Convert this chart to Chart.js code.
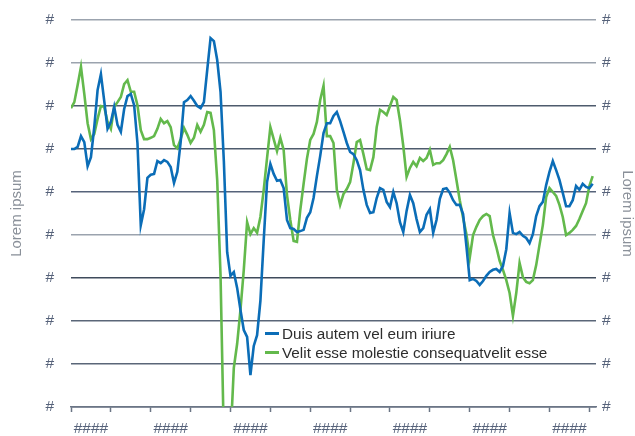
<!DOCTYPE html>
<html><head><meta charset="utf-8">
<script src="https://cdn.jsdelivr.net/npm/chart.js@4"></script>
<style>
html,body{margin:0;padding:0;background:#fff;}
#wrap{position:relative;width:635px;height:436px;}
#legend{position:absolute;left:265px;top:324px;font-family:'Liberation Sans',Arial,sans-serif;font-size:15.3px;color:#2d2d2d;line-height:19px;}
.item{display:flex;align-items:center;white-space:nowrap;}
.mark{display:inline-block;width:14px;height:3px;margin-right:3px;}
</style></head><body>
<div id="wrap"><canvas id="c" width="635" height="436"></canvas><div id="legend"></div></div>
<script>
// ---- data ----
const seriesNames = ['Duis autem vel eum iriure', 'Velit esse molestie consequatvelit esse'];
const axisTitle = 'Lorem ipsum';
const xTickLabels = ['####', '####', '####', '####', '####', '####', '####'];
const yTickLabels = ['#', '#', '#', '#', '#', '#', '#', '#', '#', '#'];
const blueValues = [
  6.00,
  6.00, 6.05, 6.30, 6.16, 5.60, 5.81, 6.51, 7.37, 7.74, 7.12,
  6.47, 6.63, 6.98, 6.56, 6.40, 6.93, 7.23, 7.28, 7.02, 6.14,
  4.23, 4.60, 5.33, 5.40, 5.42, 5.72, 5.67, 5.74, 5.70, 5.58,
  5.21, 5.47, 6.16, 7.09, 7.14, 7.23, 7.12, 7.00, 6.95, 7.09,
  7.84, 8.58, 8.51, 8.07, 7.33, 5.72, 3.60, 3.05, 3.14, 2.77,
  2.26, 1.79, 1.63, 0.74, 1.42, 1.67, 2.47, 3.88, 5.23, 5.65,
  5.42, 5.26, 5.28, 5.09, 4.35, 4.16, 4.14, 4.07, 4.09, 4.12,
  4.40, 4.53, 4.86, 5.37, 5.84, 6.37, 6.60, 6.60, 6.77, 6.86,
  6.65, 6.40, 6.14, 5.93, 5.88, 5.74, 5.51, 5.05, 4.70, 4.51,
  4.53, 4.86, 5.09, 5.05, 4.77, 4.65, 5.00, 4.74, 4.30, 4.07,
  4.56, 4.93, 4.74, 4.37, 4.07, 4.16, 4.47, 4.60, 4.05, 4.35,
  4.84, 5.07, 5.09, 4.98, 4.81, 4.70, 4.70, 4.49, 3.74, 2.95,
  2.98, 2.93, 2.84, 2.93, 3.05, 3.14, 3.19, 3.21, 3.14, 3.28,
  3.67, 4.51, 4.05, 4.02, 4.07, 3.98, 3.93, 3.81, 4.02, 4.44,
  4.67, 4.77, 5.16, 5.47, 5.72, 5.51, 5.28, 4.98, 4.67, 4.67,
  4.81, 5.14, 5.05, 5.19, 5.12, 5.09, 5.19
];
const greenValues = [
  6.95,
  7.09, 7.49, 7.91, 7.28, 6.60, 6.23, 6.35, 6.70, 7.00, 6.98,
  6.63, 6.47, 6.98, 7.09, 7.21, 7.51, 7.60, 7.33, 7.33, 7.02,
  6.44, 6.23, 6.23, 6.26, 6.30, 6.47, 6.70, 6.60, 6.65, 6.51,
  6.09, 6.02, 6.23, 6.49, 6.33, 6.14, 6.26, 6.56, 6.40, 6.56,
  6.86, 6.84, 6.44, 5.28, 3.07, -0.77, -1.70, -0.77, 0.91, 1.47,
  2.26, 3.19, 4.30, 4.02, 4.16, 4.05, 4.42, 5.05, 5.79, 6.51,
  6.23, 5.95, 6.26, 5.98, 4.93, 4.35, 3.86, 3.84, 4.58, 5.19,
  5.77, 6.21, 6.35, 6.63, 7.14, 7.47, 6.30, 6.30, 6.14, 5.05,
  4.70, 4.95, 5.07, 5.23, 5.67, 6.16, 6.21, 5.88, 5.53, 5.51,
  5.81, 6.51, 6.91, 6.86, 6.79, 7.00, 7.21, 7.14, 6.67, 6.07,
  5.35, 5.56, 5.70, 5.60, 5.79, 5.72, 5.79, 5.98, 5.63, 5.67,
  5.67, 5.74, 5.88, 6.05, 5.74, 5.28, 4.81, 4.40, 4.02, 3.47,
  4.00, 4.19, 4.35, 4.44, 4.49, 4.44, 4.00, 3.72, 3.40, 3.19,
  2.95, 2.65, 2.12, 2.65, 3.35, 3.02, 2.91, 2.88, 2.95, 3.30,
  3.77, 4.23, 4.88, 5.09, 5.00, 4.91, 4.70, 4.42, 4.00, 4.05,
  4.12, 4.21, 4.37, 4.56, 4.74, 5.14, 5.37
];
const periods = blueValues.map((_, i) => i);

// ---- styling ----
const BLUE = '#0b6db7', GREEN = '#63b94c';
const tickColor = '#56627a';
const axisColor = '#6b7585';
const gridColors = ['#4e5b6d', '#5a6678', '#5a6678', '#3f4b5c', '#9ba3ae', '#56637a', '#4e5b6d', '#4e5b6d', '#9ba3ae', '#9ba3ae'];
Chart.defaults.font.family = "'Liberation Sans', Arial, sans-serif";

const yTicks = s => { s.ticks = yTickLabels.map((_, i) => ({ value: i })); };
const fitY = w => s => { s.width = w; s.paddingTop = 0; s.paddingBottom = 0; };

const chart = new Chart(document.getElementById('c'), {
  type: 'line',
  data: {
    datasets: [
      { label: seriesNames[0], data: periods.map((p, i) => ({ x: p, y: blueValues[i] })), borderColor: BLUE, backgroundColor: BLUE, borderWidth: 2.6, pointRadius: 0, tension: 0, yAxisID: 'y' },
      { label: seriesNames[1], data: periods.map((p, i) => ({ x: p, y: greenValues[i] })), borderColor: GREEN, backgroundColor: GREEN, borderWidth: 2.6, pointRadius: 0, tension: 0, yAxisID: 'y' }
    ]
  },
  options: {
    responsive: false,
    animation: false,
    layout: { padding: { top: 20, left: 0, right: 0, bottom: 0 } },
    plugins: { legend: { display: false }, tooltip: { enabled: false } },
    scales: {
      x: {
        type: 'linear', min: 0, max: 158,
        afterBuildTicks: s => { const t = []; for (let v = 0; v <= 156; v += 6) t.push({ value: v }); s.ticks = t; },
        ticks: { autoSkip: false, maxRotation: 0, minRotation: 0, padding: 7, color: tickColor, font: { size: 15.5 },
          callback: v => (v % 24 === 6) ? xTickLabels[(v - 6) / 24] : '' },
        grid: { drawOnChartArea: false, drawTicks: true, tickLength: 5, tickWidth: 1.5,
          tickColor: ctx => (ctx.tick && ctx.tick.value % 12 === 0) ? axisColor : 'rgba(0,0,0,0)' },
        border: { display: true, color: axisColor, width: 1.5 },
        afterFit: s => { s.height = 29; s.paddingLeft = 0; s.paddingRight = 0; }
      },
      y: {
        position: 'left', min: 0, max: 9,
        afterBuildTicks: yTicks,
        ticks: { padding: 17, color: tickColor, font: { size: 15.5 }, callback: (v, i) => yTickLabels[i] },
        grid: { drawTicks: false, color: ctx => gridColors[ctx.index], lineWidth: 1.5 },
        border: { display: false },
        title: { display: true, text: axisTitle, color: '#8a9099', font: { size: 15, lineHeight: 1 }, padding: { top: 9, bottom: 0 } },
        afterFit: fitY(71)
      },
      y2: {
        position: 'right', min: 0, max: 9,
        afterBuildTicks: yTicks,
        ticks: { padding: 6, color: tickColor, font: { size: 15.5 }, callback: (v, i) => yTickLabels[i] },
        grid: { drawOnChartArea: false, drawTicks: false },
        border: { display: false },
        title: { display: true, text: axisTitle, color: '#8a9099', font: { size: 15, lineHeight: 1 }, padding: { top: 0, bottom: 0 } },
        afterFit: fitY(39)
      }
    }
  }
});

// HTML legend from the chart's datasets
const lg = document.getElementById('legend');
chart.data.datasets.forEach(ds => {
  const row = document.createElement('div'); row.className = 'item';
  const m = document.createElement('span'); m.className = 'mark'; m.style.background = ds.borderColor;
  const t = document.createElement('span'); t.textContent = ds.label;
  row.appendChild(m); row.appendChild(t); lg.appendChild(row);
});
</script></body></html>
